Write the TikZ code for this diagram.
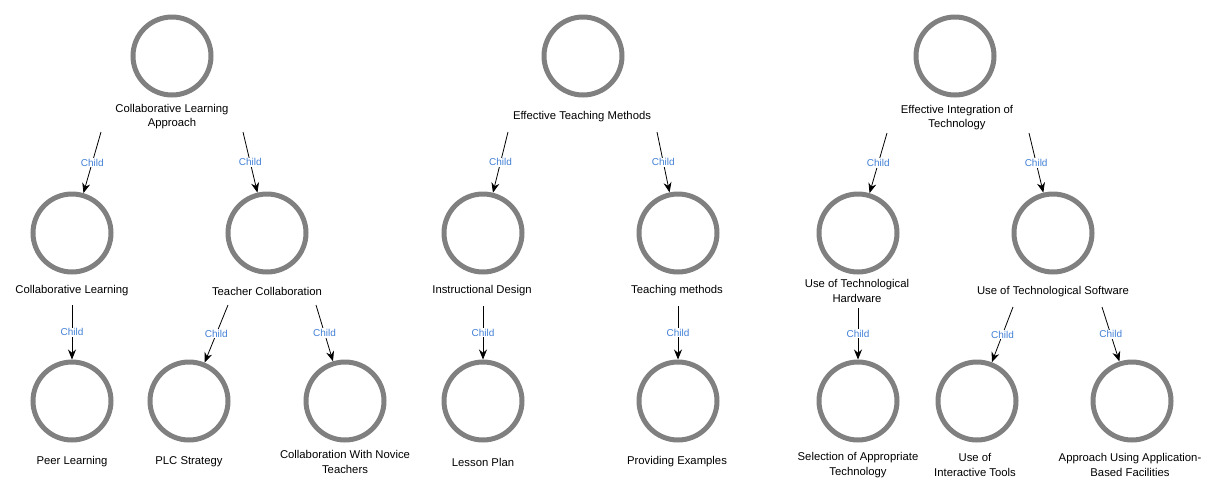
\documentclass[tikz,border=0pt]{standalone}
\usepackage{fontspec}
\setmainfont{Liberation Sans}
\usepackage{xcolor}
\definecolor{Col1}{RGB}{128,128,128}
\definecolor{Col2}{RGB}{66,128,214}
\usepackage{tikz}
\usetikzlibrary{arrows.meta}
\tikzstyle{Circ}=[circle,draw=Col1,line width=5pt,minimum size=78pt,inner sep=0pt]
\tikzstyle{NodeLbl}=[align=center,inner sep=0pt,
font=\fontsize{11.3}{14.5}\selectfont]
\tikzstyle{Edge}=[draw=black,line width=0.8pt,-{Stealth[length=10pt,width=8pt]}]
\tikzstyle{EdgeLbl}=[fill=white,inner sep=1pt,text=Col2,
font=\fontsize{10}{12}\selectfont]

\begin{document}
\begin{tikzpicture}[x=1pt,y=-1pt]
    \useasboundingbox(0,0)rectangle(1208,483);
        % first tree
        \node[Circ](CLA)at(172,56){};
        \node[NodeLbl](CLAt)at(172,116.5){Collaborative Learning\\Approach};
        \node[Circ](CL)at(72,233){};
        \node[NodeLbl](CLt)at(72,291){Collaborative Learning};
        \node[Circ](TC)at(267,233){};
        \node[NodeLbl](TCt)at(267,291){Teacher Collaboration};
        \node[Circ](PL)at(72,401){};
        \node[NodeLbl](PLt)at(72,462){Peer Learning};
        \node[Circ](PLC)at(189,401){};
        \node[NodeLbl](PLCt)at(189,462){PLC Strategy};
        \node[Circ](CWN)at(345,401){};
        \node[NodeLbl](CWNt)at(345,462){Collaboration With Novice\\Teachers};
        \coordinate(CLA1)at(101,132);
        \coordinate(CLA2)at(243,132);
        \coordinate(CL1)at(72,305);
        \coordinate(TC1)at(228,305);
        \coordinate(TC2)at(316,305);
        \draw[Edge](CLA1)--node[EdgeLbl]{Child}(CL);
        \draw[Edge](CLA2)--node[EdgeLbl]{Child}(TC);
        \draw[Edge](CL1)--node[EdgeLbl]{Child}(PL);
        \draw[Edge](TC1)--node[EdgeLbl]{Child}(PLC);
        \draw[Edge](TC2)--node[EdgeLbl]{Child}(CWN);
        % second tree
        \node[Circ](ETM)at(583,56){};
        \node[NodeLbl](ETMt)at(582,117){Effective Teaching Methods};
        \node[Circ](ID)at(483,233){};
        \node[NodeLbl](IDt)at(482,291){Instructional Design};
        \node[Circ](TM)at(678,233){};
        \node[NodeLbl](TMt)at(677,291){Teaching methods};
        \node[Circ](LP)at(483,401){};
        \node[NodeLbl](LPt)at(483,462){Lesson Plan};
        \node[Circ](PE)at(678,401){};
        \node[NodeLbl](PEt)at(677,462){Providing Examples};
        \coordinate(ETM1)at(508,132);
        \coordinate(ETM2)at(657,132);
        \coordinate(ID1)at(483,306);
        \coordinate(TM1)at(678,306);
        \draw[Edge](ETM1)--node[EdgeLbl]{Child}(ID);
        \draw[Edge](ETM2)--node[EdgeLbl]{Child}(TM);
        \draw[Edge](ID1)--node[EdgeLbl]{Child}(LP);
        \draw[Edge](TM1)--node[EdgeLbl]{Child}(PE);
        % third tree
        \node[Circ](EIT)at(955,56){};
        \node[NodeLbl](EITt)at(957,117.5){Effective Integration of\\Technology};
        \node[Circ](HW)at(858,233){};
        \node[NodeLbl](HWt)at(857,291){Use of Technological\\Hardware};
        \node[Circ](SW)at(1053,233){};
        \node[NodeLbl](SWt)at(1053,292){Use of Technological Software};
        \node[Circ](SAT)at(858,401){};
        \node[NodeLbl](SATt)at(858,465){Selection of Appropriate\\Technology};
        \node[Circ](UIT)at(977,401){};
        \node[NodeLbl](UITt)at(975,465){Use of\\Interactive Tools};
        \node[Circ](ABF)at(1132,401){};
        \node[NodeLbl](ABFt)at(1130,465){Approach Using Application-\\Based Facilities};
        \coordinate(EIT1)at(887,133);
        \coordinate(EIT2)at(1029,133);
        \coordinate(HW1)at(858,308);
        \coordinate(SW1)at(1013,307);
        \coordinate(SW2)at(1102,307);
        \draw[Edge](EIT1)--node[EdgeLbl]{Child}(HW);
        \draw[Edge](EIT2)--node[EdgeLbl]{Child}(SW);
        \draw[Edge](HW1)--node[EdgeLbl]{Child}(SAT);
        \draw[Edge](SW1)--node[EdgeLbl]{Child}(UIT);
        \draw[Edge](SW2)--node[EdgeLbl]{Child}(ABF);
    \end{tikzpicture}
\end{document}
